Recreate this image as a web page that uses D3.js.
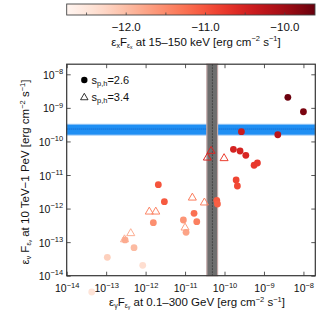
<!DOCTYPE html>
<html><head><meta charset="utf-8">
<script src="https://cdn.jsdelivr.net/npm/d3@7"></script>
<style>
body{margin:0;background:#fff}
svg{display:block}
text{font-family:"Liberation Sans",Arial,Helvetica,sans-serif;fill:#111}
</style>
</head><body>
<svg id="c" width="332" height="326"></svg>
<script>
// ---------- data ----------
// s_p,h = 2.6 (filled circles)
const circGamma = [4.03e-9, 1.0e-8, 2.68e-10, 2.24e-9, 1.68e-10, 2.48e-10, 3.47e-10, 5.62e-10, 6.82e-10, 1.97e-10, 2.12e-10,
  2.10e-12, 2.99e-12, 6.37e-11, 6.61e-11, 1.57e-12, 1.69e-11, 9.06e-12, 1.98e-11, 1.06e-11, 3.01e-13, 5.09e-13, 1.07e-13, 8.45e-13, 4.31e-14];
const circNu = [2.06e-9, 7.67e-10, 1.95e-10, 1.58e-10, 5.82e-11, 5.19e-11, 3.86e-11, 1.95e-11, 2.28e-11, 7.10e-12, 4.70e-12,
  5.14e-12, 1.60e-12, 1.74e-12, 1.37e-12, 3.79e-13, 7.23e-13, 4.56e-13, 4.06e-13, 1.96e-13, 1.16e-13, 6.82e-14, 3.53e-14, 2.04e-14, 3.27e-15];
const circX = [-9.65, -9.75, -10.38, -10.25, -10.5, -10.5, -10.55, -10.75, -10.75, -10.87, -10.9,
  -11.0, -11.05, -11.05, -11.1, -11.55, -11.25, -11.6, -11.4, -11.75, -11.8, -11.97, -12.2, -12.37, -12.45];
// s_p,h = 3.4 (open triangles)
const triGamma = [4.57e-11, 3.68e-11, 9.75e-11, 1.53e-11, 3.09e-11, 1.24e-12, 1.81e-12, 1.0e-11, 4.20e-13, 2.92e-13];
const triNu    = [5.19e-11, 3.27e-11, 3.14e-11, 2.10e-12, 1.50e-12, 8.05e-13, 8.05e-13, 2.69e-13, 1.83e-13, 1.20e-13];
const triX     = [-10.55, -10.55, -10.8, -11.35, -11.4, -11.45, -11.45, -11.7, -11.85, -11.85];
// bands
const nuBand = [1.55e-10, 2.34e-10, 3.24e-10];      // low, centre, high (horizontal, blue)
const gammaBand = [3.56e-11, 4.93e-11, 6.67e-11];   // low, centre, high (vertical, gray)
// axes
const axisDomain = [1e-14, 2.0e-8];
const decadeTicks = [1e-14, 1e-13, 1e-12, 1e-11, 1e-10, 1e-9, 1e-8];
const cbarDomain = [-12.75, -9.62];
const cbarTicks = [-12.5, -12.0, -11.5, -11.0, -10.5, -10.0];
const cbarLabels = [-12.0, -11.0, -10.0];
const legendLabels = ["=2.6", "=3.4"];

// ---------- layout ----------
const svg = d3.select("#c");
const X0 = 66.7, X1 = 315.3, Y0 = 64.2, Y1 = 275.7;
const x = d3.scaleLog().domain(axisDomain).range([X0, X1]);
const y = d3.scaleLog().domain(axisDomain).range([Y1, Y0]);
const cx = d3.scaleLinear().domain(cbarDomain).range([66.7, 315]);
const col = v => d3.interpolateReds((v - cbarDomain[0]) / (cbarDomain[1] - cbarDomain[0]));
const FS = 11.5;

// ---------- colorbar ----------
const defs = svg.append("defs");
const grad = defs.append("linearGradient").attr("id", "g").attr("x1", 0).attr("x2", 1).attr("y1", 0).attr("y2", 0);
d3.range(0, 1.0001, 0.05).forEach(t => grad.append("stop").attr("offset", t).attr("stop-color", d3.interpolateReds(t)));
const CB0 = 4, CB1 = 15;
svg.append("rect").attr("x", cx(cbarDomain[0])).attr("y", CB0).attr("width", cx(cbarDomain[1]) - cx(cbarDomain[0])).attr("height", CB1 - CB0)
  .attr("fill", "url(#g)").attr("stroke", "#444").attr("stroke-width", 0.9);
svg.append("g").selectAll("line").data(cbarTicks).join("line")
  .attr("x1", d => cx(d)).attr("x2", d => cx(d)).attr("y1", CB1).attr("y2", CB1 - 2.5)
  .attr("stroke", "#444").attr("stroke-width", 0.8);
svg.append("g").selectAll("text").data(cbarLabels).join("text")
  .attr("x", d => cx(d)).attr("y", 30.8).attr("text-anchor", "middle").attr("font-size", 11.5)
  .text(d => "\u2212" + Math.abs(d).toFixed(1));

function fluxLabel(t, sym, rest, wide) {
  t.append("tspan").text("ε");
  t.append("tspan").attr("font-size", 7).attr("dy", 2.2).text(sym);
  t.append("tspan").attr("dy", -2.2).text(wide ? " F" : "F");
  t.append("tspan").attr("font-size", 7).attr("dy", 2.2).text("ε");
  t.append("tspan").attr("font-size", 5).attr("dy", 1.2).text(sym);
  t.append("tspan").attr("dy", -3.4).text(rest + " [erg cm");
  t.append("tspan").attr("font-size", 7.5).attr("dy", -4.5).text("\u22122");
  t.append("tspan").attr("dy", 4.5).text(" s");
  t.append("tspan").attr("font-size", 7.5).attr("dy", -4.5).text("\u22121");
  t.append("tspan").attr("dy", 4.5).text("]");
}
fluxLabel(svg.append("text").attr("x", 196).attr("y", 45.5).attr("text-anchor", "middle").attr("font-size", FS),
  "x", " at 15\u2013150 keV", false);

// ---------- bands ----------
svg.append("rect").attr("x", X0).attr("width", X1 - X0).attr("y", y(nuBand[2])).attr("height", y(nuBand[0]) - y(nuBand[2]))
  .attr("fill", "#1f8ff3").attr("stroke", "#8ec2f5").attr("stroke-width", 1);
svg.append("line").attr("x1", X0).attr("x2", X1).attr("y1", y(nuBand[1])).attr("y2", y(nuBand[1]))
  .attr("stroke", "#1060c8").attr("stroke-width", 1).attr("stroke-dasharray", "1,1");
svg.append("rect").attr("y", Y0).attr("height", Y1 - Y0).attr("x", x(gammaBand[0])).attr("width", x(gammaBand[2]) - x(gammaBand[0]))
  .attr("fill", "#6e6e6e").attr("stroke", "#c4a9a9").attr("stroke-width", 1.2);
svg.append("line").attr("y1", Y0).attr("y2", Y1).attr("x1", x(gammaBand[1])).attr("x2", x(gammaBand[1]))
  .attr("stroke", "#444").attr("stroke-width", 1).attr("stroke-dasharray", "2,1");

// ---------- axes ----------
function powLabel(sel) {
  sel.each(function(d) {
    const e = Math.round(Math.log10(d));
    const t = d3.select(this).text(null);
    t.append("tspan").text("10");
    t.append("tspan").attr("font-size", 7.5).attr("dy", -4.8).text("\u2212" + Math.abs(e));
  });
}
const axStyle = g => { g.select(".domain").remove(); g.selectAll(".tick line").attr("stroke", "#444").attr("stroke-width", 0.9); };
const gB = svg.append("g").attr("transform", `translate(0,${Y1})`)
  .call(d3.axisBottom(x).tickValues(decadeTicks).tickSize(-4).tickFormat(d => d)).call(axStyle);
gB.selectAll(".tick text").attr("y", 16.8).attr("dy", 0).attr("font-size", 10.5).attr("font-family", null).attr("fill", "#111").call(powLabel);
svg.append("g").attr("transform", `translate(0,${Y0})`)
  .call(d3.axisTop(x).tickValues(decadeTicks).tickSize(-4).tickFormat("")).call(axStyle);
const gL = svg.append("g").attr("transform", `translate(${X0},0)`)
  .call(d3.axisLeft(y).tickValues(decadeTicks).tickSize(-4).tickFormat(d => d)).call(axStyle);
gL.selectAll(".tick text").attr("x", -3.5).attr("dy", 0).attr("y", 4).attr("font-size", 10.5).attr("font-family", null).attr("fill", "#111").call(powLabel);
svg.append("g").attr("transform", `translate(${X1},0)`)
  .call(d3.axisRight(y).tickValues(decadeTicks).tickSize(-4).tickFormat("")).call(axStyle);
svg.append("rect").attr("x", X0).attr("y", Y0).attr("width", X1 - X0).attr("height", Y1 - Y0)
  .attr("fill", "none").attr("stroke", "#333").attr("stroke-width", 1.2);

// ---------- points ----------
const circles = circGamma.map((g, i) => ({g, n: circNu[i], c: circX[i]}));
svg.append("g").selectAll("circle").data(circles).join("circle")
  .attr("cx", d => x(d.g)).attr("cy", d => y(d.n)).attr("r", 3.4).attr("fill", d => col(d.c));
const tris = triGamma.map((g, i) => ({g, n: triNu[i], c: triX[i]}));
const triSym = d3.symbol(d3.symbolTriangle, 28);
svg.append("g").selectAll("path").data(tris).join("path")
  .attr("d", triSym).attr("transform", d => `translate(${x(d.g)},${y(d.n)})`)
  .attr("fill", "none").attr("stroke", d => col(d.c)).attr("stroke-width", 1);

// ---------- legend ----------
svg.append("circle").attr("cx", 84.3).attr("cy", 80).attr("r", 3.2).attr("fill", "#000");
svg.append("path").attr("d", d3.symbol(d3.symbolTriangle, 24)).attr("transform", "translate(84.3,97.6)").attr("fill", "none").attr("stroke", "#000").attr("stroke-width", 0.8);
legendLabels.forEach((lab, i) => {
  const t = svg.append("text").attr("x", 91.5).attr("y", 83.8 + i * 17.3).attr("font-size", 11);
  t.append("tspan").text("s");
  t.append("tspan").attr("font-size", 7.5).attr("dy", 2.2).text("p,h");
  t.append("tspan").attr("dy", -2.2).text(lab);
});

// ---------- axis titles ----------
fluxLabel(svg.append("text").attr("x", 197).attr("y", 306).attr("text-anchor", "middle").attr("font-size", FS),
  "γ", " at 0.1\u2013300 GeV", false);
fluxLabel(svg.append("text").attr("transform", "translate(29,172) rotate(-90)").attr("text-anchor", "middle").attr("font-size", FS),
  "ν", " at 10 TeV\u22121 PeV", true);
</script>
</body></html>
